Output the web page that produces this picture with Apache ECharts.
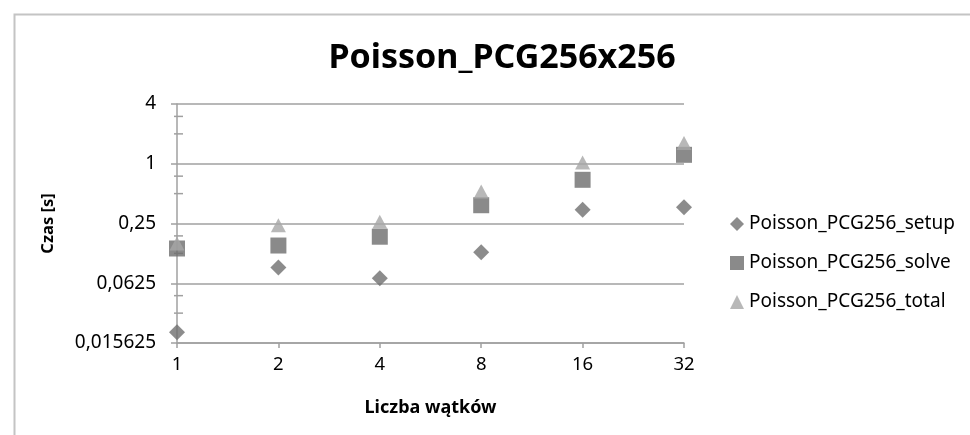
<!DOCTYPE html>
<html>
<head>
<meta charset="utf-8">
<script src="https://cdn.jsdelivr.net/npm/echarts@6/dist/echarts.min.js"></script>
<style>html,body{margin:0;padding:0;background:#fff}#c{width:970px;height:435px}</style>
</head>
<body>
<div id="c"></div>
<script>
var categories = ['1', '2', '4', '8', '16', '32'];
var setupValues = [0.02, 0.09, 0.07, 0.128, 0.343, 0.365];
var solveValues = [0.14, 0.15, 0.184, 0.382, 0.689, 1.23];
var totalValues = [0.157, 0.24, 0.261, 0.525, 1.03, 1.62];
var yTickValues = [0.015625, 0.0625, 0.25, 1, 4];
var yTickLabels = ['0,015625', '0,0625', '0,25', '1', '4'];
var yMinorTicks = [0.03125, 0.046875, 0.125, 0.1875, 0.5, 0.75, 2, 3];
var seriesNames = ['Poisson_PCG256_setup', 'Poisson_PCG256_solve', 'Poisson_PCG256_total'];

var FONT = 'Noto Sans';
var chart = echarts.init(document.getElementById('c'), null, {renderer: 'canvas'});
chart.setOption({
  animation: false,
  backgroundColor: '#fff',
  textStyle: {fontFamily: FONT},
  graphic: [{
    type: 'rect', left: 12, top: 12, silent: true,
    shape: {x: 0, y: 0, width: 1000, height: 500},
    style: {fill: 'none', stroke: '#c4c4c4', lineWidth: 2}
  }],
  title: {
    text: 'Poisson_PCG256x256', left: 497, textAlign: 'center', top: 36,
    textStyle: {fontFamily: FONT, fontWeight: 'bold', fontSize: 34, color: '#000'}
  },
  legend: {
    orient: 'vertical', left: 730, top: 214, itemGap: 19, padding: 0,
    itemWidth: 14, itemHeight: 14,
    data: [
      {name: seriesNames[0], icon: 'diamond'},
      {name: seriesNames[1], icon: 'rect'},
      {name: seriesNames[2], icon: 'triangle'}
    ],
    textStyle: {fontFamily: FONT, fontSize: 19, lineHeight: 20, color: '#000'}
  },
  grid: {left: 177, right: 286, top: 104, bottom: 92},
  xAxis: {
    type: 'category', data: categories, boundaryGap: false,
    name: 'Liczba wątków', nameLocation: 'middle', nameGap: 56,
    nameTextStyle: {fontFamily: FONT, fontWeight: 'bold', fontSize: 18, color: '#000'},
    axisLine: {lineStyle: {color: '#a0a0a0', width: 1.5}},
    axisTick: {show: true, alignWithLabel: true, length: 5, lineStyle: {color: '#a0a0a0', width: 1.5}},
    axisLabel: {margin: 12, fontFamily: FONT, fontSize: 18.5, color: '#000'},
    splitLine: {show: false}
  },
  yAxis: {
    type: 'log', logBase: 4, min: 0.015625, max: 4, interval: 1,
    name: 'Czas [s]', nameLocation: 'middle', nameGap: 120, nameRotate: 90,
    nameTextStyle: {fontFamily: FONT, fontWeight: 'bold', fontSize: 16.5, color: '#000'},
    axisLine: {show: true, lineStyle: {color: '#a0a0a0', width: 1.5}},
    axisTick: {show: true, length: 6, lineStyle: {color: '#a0a0a0', width: 1.5}},
    axisLabel: {
      margin: 21, fontFamily: FONT, fontSize: 19, color: '#000',
      formatter: function (v) {
        for (var i = 0; i < yTickValues.length; i++) {
          if (Math.abs(v - yTickValues[i]) / yTickValues[i] < 1e-6) return yTickLabels[i];
        }
        return '';
      }
    },
    splitLine: {show: true, lineStyle: {color: '#a0a0a0', width: 1.5}}
  },
  series: [
    {
      name: seriesNames[0], type: 'scatter', data: setupValues,
      symbol: 'diamond', symbolSize: 16, itemStyle: {color: '#6f6f6f'}, z: 3
    },
    {
      name: seriesNames[1], type: 'scatter', data: solveValues,
      symbol: 'rect', symbolSize: 16, itemStyle: {color: '#6d6d6d'}, z: 4
    },
    {
      name: seriesNames[2], type: 'scatter', data: totalValues,
      symbol: 'triangle', symbolSize: [15, 14], itemStyle: {color: '#a6a6a6'}, z: 5
    },
    {
      name: 'minorTicks', type: 'custom', silent: true, z: 2,
      data: yMinorTicks.map(function (v) { return [0, v]; }),
      renderItem: function (params, api) {
        var p = api.coord([api.value(0), api.value(1)]);
        return {
          type: 'line',
          shape: {x1: p[0] - 3, y1: p[1], x2: p[0] + 6, y2: p[1]},
          style: {stroke: '#a0a0a0', lineWidth: 1.5}
        };
      }
    }
  ]
});
</script>
</body>
</html>
